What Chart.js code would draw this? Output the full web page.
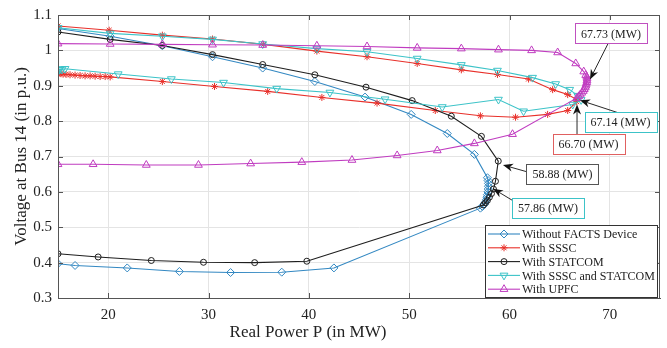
<!DOCTYPE html>
<html>
<head>
<meta charset="utf-8">
<script src="https://cdn.jsdelivr.net/npm/chart.js@4.4.1/dist/chart.umd.min.js"></script>
<style>
html,body{margin:0;padding:0;background:#fff;}
canvas{display:block;}
</style>
</head>
<body>
<canvas id="c" width="667" height="348" style="width:667px;height:348px"></canvas>
<script>
// ---------- DATA ----------
const seriesNames = ["Without FACTS Device", "With SSSC", "With STATCOM", "With SSSC and STATCOM", "With UPFC"];

const xNone = [15,20.2,25.4,30.4,35.4,40.6,45.6,50.2,53.8,56.5,57.8,57.86,57.9,57.9,57.88,57.85,57.8,57.75,57.7,57.6,57.5,57.3,57.1,42.5,37.3,32.2,27.1,21.9,16.7,15];
const yNone = [1.062,1.04,1.013,0.982,0.95,0.912,0.868,0.819,0.765,0.706,0.64,0.632,0.624,0.616,0.608,0.6,0.592,0.585,0.578,0.571,0.565,0.559,0.554,0.385,0.373,0.372,0.375,0.385,0.392,0.397];

const xSSSC = [15,20.1,25.4,30.4,35.5,40.8,45.8,50.8,55.2,58.8,61.9,64.3,65.8,66.7,66.7,65.8,63.8,60.6,57.1,52.6,46.8,41.3,35.9,30.6,25.4,20.2,19.7,19.2,18.7,18.2,17.7,17.2,16.7,16.2,15.8,15.5,15.3,15.1,15];
const ySSSC = [1.069,1.057,1.043,1.032,1.017,0.998,0.982,0.963,0.945,0.932,0.919,0.889,0.875,0.861,0.855,0.83,0.819,0.811,0.815,0.83,0.851,0.867,0.884,0.898,0.912,0.925,0.926,0.926,0.927,0.928,0.928,0.929,0.93,0.931,0.932,0.933,0.934,0.935,0.935];

const xSTATCOM = [15,20.2,25.4,30.4,35.4,40.6,45.7,50.3,54.2,57.2,58.88,58.6,58.4,58.2,58.0,57.8,57.6,57.4,39.8,34.6,29.5,24.3,19,15];
const ySTATCOM = [1.052,1.031,1.014,0.988,0.96,0.931,0.896,0.858,0.814,0.757,0.687,0.63,0.608,0.595,0.585,0.576,0.569,0.563,0.404,0.4,0.401,0.406,0.416,0.425];

const xBoth = [15,20.2,25.4,30.4,35.4,40.8,45.8,50.8,55.2,58.8,62.3,64.6,66.0,66.8,67.14,66.3,61.4,58.9,53.3,47.6,42.1,36.8,31.5,26.3,21,15.7,15.4,15.2,15.1,15];
const yBoth = [1.064,1.048,1.04,1.031,1.018,1.005,0.996,0.977,0.959,0.943,0.923,0.905,0.889,0.872,0.86,0.847,0.828,0.861,0.84,0.862,0.881,0.892,0.909,0.919,0.933,0.948,0.946,0.947,0.945,0.946];

const xUPFC = [15,20.2,25.4,30.4,35.4,40.8,45.8,50.8,55.2,58.9,62.2,64.8,66.6,67.4,67.6,67.7,67.73,67.72,67.7,67.65,67.6,67.55,67.45,67.35,67.2,67.05,66.9,66.7,60.3,56.5,52.8,48.8,44.3,39.3,34.2,29,23.8,18.5,15];
const yUPFC = [1.019,1.018,1.017,1.016,1.015,1.013,1.011,1.007,1.005,1.002,1.0,0.994,0.963,0.94,0.93,0.925,0.92,0.915,0.91,0.905,0.9,0.895,0.89,0.885,0.88,0.875,0.87,0.865,0.763,0.737,0.717,0.703,0.69,0.684,0.68,0.676,0.676,0.678,0.678];

const xTicks = [20,30,40,50,60,70];
const yTicks = [0.3,0.4,0.5,0.6,0.7,0.8,0.9,1.0,1.1];

// annotation labels: text, box centre, arrow tail, arrow tip (data units)
const noteTexts = ["67.73 (MW)","67.14 (MW)","66.70 (MW)","58.88 (MW)","57.86 (MW)"];
const noteBox   = [[70.12,1.048],[71.07,0.797],[67.88,0.735],[65.28,0.651],[63.84,0.554]];
const noteTail  = [[69.82,1.019],[71.01,0.822],[66.73,0.763],[61.84,0.656],[60.35,0.575]];
const noteTip   = [[68.02,0.918],[67.03,0.859],[66.73,0.847],[59.35,0.676],[58.36,0.609]];

// ---------- STYLE ----------
const colors = ['#3388c2','#e8302a','#1e1e1e','#3cc3c8','#c03cc0'];
const noteColors = ['#c050c0','#3cc3c8','#e06060','#555555','#3cc3c8'];
const styles = [
  {pointStyle:'rectRot', radius:4, rotation:0},
  {pointStyle:'star', radius:3.5, rotation:0},
  {pointStyle:'circle', radius:3, rotation:0},
  {pointStyle:'triangle', radius:4.5, rotation:180},
  {pointStyle:'triangle', radius:4.5, rotation:0}
];
const FONT = "'Liberation Serif','Times New Roman',serif";

const xs = [xNone,xSSSC,xSTATCOM,xBoth,xUPFC];
const ys = [yNone,ySSSC,ySTATCOM,yBoth,yUPFC];

const datasets = seriesNames.map((name,i)=>({
  label: name,
  data: xs[i].map((v,k)=>({x:v,y:ys[i][k]})),
  showLine: true,
  borderColor: colors[i],
  borderWidth: 1.1,
  pointStyle: styles[i].pointStyle,
  pointRadius: styles[i].radius,
  pointRotation: styles[i].rotation,
  pointBorderColor: colors[i],
  pointBackgroundColor: 'rgba(0,0,0,0)',
  pointBorderWidth: 1,
  tension: 0,
  order: 4 - i
}));

function drawMarker(ctx, st, color, cx, cy){
  ctx.save();
  ctx.strokeStyle = color; ctx.lineWidth = 1;
  const r = st.radius;
  ctx.beginPath();
  if (st.pointStyle==='rectRot'){
    ctx.moveTo(cx,cy-r); ctx.lineTo(cx+r,cy); ctx.lineTo(cx,cy+r); ctx.lineTo(cx-r,cy); ctx.closePath();
  } else if (st.pointStyle==='star'){
    ctx.moveTo(cx-r,cy); ctx.lineTo(cx+r,cy); ctx.moveTo(cx,cy-r); ctx.lineTo(cx,cy+r);
    const d=r*0.707; ctx.moveTo(cx-d,cy-d); ctx.lineTo(cx+d,cy+d); ctx.moveTo(cx-d,cy+d); ctx.lineTo(cx+d,cy-d);
  } else if (st.pointStyle==='circle'){
    ctx.arc(cx,cy,r,0,Math.PI*2);
  } else {
    const s = st.rotation===180 ? -1 : 1;
    ctx.moveTo(cx, cy - s*r); ctx.lineTo(cx + r*0.866, cy + s*r*0.5); ctx.lineTo(cx - r*0.866, cy + s*r*0.5); ctx.closePath();
  }
  ctx.stroke();
  ctx.restore();
}

function arrow(ctx, x1,y1,x2,y2){
  ctx.save();
  ctx.strokeStyle='#111'; ctx.fillStyle='#111'; ctx.lineWidth=0.9;
  const ang=Math.atan2(y2-y1,x2-x1);
  const L=10, W=4;
  const bx = x2 - L*Math.cos(ang), by = y2 - L*Math.sin(ang);
  ctx.beginPath(); ctx.moveTo(x1,y1); ctx.lineTo(bx+3*Math.cos(ang),by+3*Math.sin(ang)); ctx.stroke();
  const px=-Math.sin(ang), py=Math.cos(ang);
  ctx.beginPath();
  ctx.moveTo(x2,y2);
  ctx.lineTo(bx+px*W, by+py*W);
  ctx.lineTo(x2-0.7*L*Math.cos(ang), y2-0.7*L*Math.sin(ang));
  ctx.lineTo(bx-px*W, by-py*W);
  ctx.closePath(); ctx.fill();
  ctx.restore();
}

const overlay = {
  id:'overlay',
  afterDraw(chart){
    const {ctx, chartArea:a} = chart;
    const sx = chart.scales.x, sy = chart.scales.y;
    ctx.save();
    // frame
    ctx.strokeStyle='#555'; ctx.lineWidth=1;
    ctx.strokeRect(Math.round(a.left)+0.5, Math.round(a.top)+0.5, Math.round(a.right-a.left)-1, Math.round(a.bottom-a.top));
    // inner ticks
    ctx.beginPath();
    xTicks.forEach(v=>{
      const p=Math.round(sx.getPixelForValue(v))+0.5;
      ctx.moveTo(p,a.bottom); ctx.lineTo(p,a.bottom-5);
      ctx.moveTo(p,a.top); ctx.lineTo(p,a.top+5);
    });
    yTicks.forEach(v=>{
      const p=Math.round(sy.getPixelForValue(v))+0.5;
      ctx.moveTo(a.left,p); ctx.lineTo(a.left+5,p);
      ctx.moveTo(a.right,p); ctx.lineTo(a.right-5,p);
    });
    ctx.stroke();
    // axis titles
    ctx.fillStyle='#222';
    ctx.font = "17px " + FONT;
    ctx.textAlign='center'; ctx.textBaseline='middle';
    ctx.fillText("Real Power P (in MW)", 308, 333);
    ctx.save();
    ctx.translate(22,(a.top+a.bottom)/2);
    ctx.rotate(-Math.PI/2);
    ctx.fillText("Voltage at Bus 14 (in p.u.)",0,0);
    ctx.restore();
    // annotations
    ctx.font = "12px " + FONT;
    noteTexts.forEach((t,i)=>{
      const tx=sx.getPixelForValue(noteTail[i][0]), ty=sy.getPixelForValue(noteTail[i][1]);
      const hx=sx.getPixelForValue(noteTip[i][0]), hy=sy.getPixelForValue(noteTip[i][1]);
      arrow(ctx,tx,ty,hx,hy);
    });
    noteTexts.forEach((t,i)=>{
      const cx=sx.getPixelForValue(noteBox[i][0]), cy=sy.getPixelForValue(noteBox[i][1]);
      const w=ctx.measureText(t).width+12, h=20;
      const bx=Math.round(cx-w/2)+0.5, by=Math.round(cy-h/2)+0.5;
      ctx.fillStyle='#fff'; ctx.fillRect(bx,by,w,h);
      ctx.strokeStyle=noteColors[i]; ctx.lineWidth=1; ctx.strokeRect(bx,by,w,h);
      ctx.fillStyle='#222'; ctx.textAlign='center'; ctx.textBaseline='middle';
      ctx.fillText(t,cx,cy+1);
    });
    // legend
    const lx=485.5, ly=225.5, lw=172, lh=72;
    ctx.fillStyle='#fff'; ctx.fillRect(lx,ly,lw,lh);
    ctx.strokeStyle='#333'; ctx.lineWidth=1; ctx.strokeRect(lx,ly,lw,lh);
    ctx.font="12px " + FONT; ctx.textAlign='left'; ctx.textBaseline='middle';
    seriesNames.forEach((n,i)=>{
      const yy = 234 + i*13.8;
      ctx.strokeStyle=colors[i]; ctx.lineWidth=1.1;
      ctx.beginPath(); ctx.moveTo(488,yy); ctx.lineTo(520,yy); ctx.stroke();
      drawMarker(ctx, styles[i], colors[i], 504, yy);
      ctx.fillStyle='#222';
      ctx.fillText(n, 522, yy+1);
    });
    ctx.restore();
  }
};

Chart.defaults.font.family = FONT;
new Chart(document.getElementById('c'), {
  type:'scatter',
  data:{datasets},
  options:{
    responsive:false,
    devicePixelRatio:1,
    animation:false,
    events:[],
    layout:{padding:{top:13,right:7,left:0,bottom:0}},
    plugins:{legend:{display:false}, tooltip:{enabled:false}, title:{display:false}},
    scales:{
      x:{
        type:'linear', min:15, max:75,
        afterFit(s){ s.height = 50; },
        afterBuildTicks(s){ s.ticks = xTicks.map(v=>({value:v})); },
        ticks:{ autoSkip:false, maxRotation:0, padding:8, color:'#222', font:{size:15, family:FONT} },
        grid:{ color:'#e4e4e4', lineWidth:1, drawTicks:false },
        border:{ display:true, color:'#555', width:1 }
      },
      y:{
        type:'linear', min:0.3, max:1.1,
        afterFit(s){ s.width = 58; },
        afterBuildTicks(s){ s.ticks = yTicks.map(v=>({value:v})); },
        ticks:{ autoSkip:false, padding:6, color:'#222', font:{size:15, family:FONT},
          callback:(v)=>String(+(+v).toFixed(1)) },
        grid:{ color:'#e4e4e4', lineWidth:1, drawTicks:false },
        border:{ display:true, color:'#555', width:1 }
      }
    }
  },
  plugins:[overlay]
});
</script>
</body>
</html>
